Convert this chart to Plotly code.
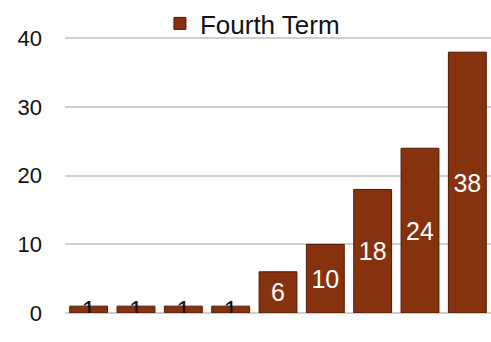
import plotly.graph_objects as go

categories = ["1", "2", "3", "4", "5", "6", "7", "8", "9"]
values = [1, 1, 1, 1, 6, 10, 18, 24, 38]
labels = ["1", "1", "1", "1", "6", "10", "18", "24", "38"]
label_colors = ["#111111"] * 4 + ["white"] * 5
y_ticks = [0, 10, 20, 30, 40]

fig = go.Figure()
fig.add_trace(go.Bar(
    x=categories,
    y=values,
    name="Fourth Term",
    text=labels,
    textposition="inside",
    insidetextanchor="middle",
    textangle=0,
    constraintext="none",
    textfont=dict(color=label_colors, size=25, family="Liberation Sans, Arial"),
    marker=dict(color="#86320f", line=dict(color="#4e1a05", width=1)),
    width=0.8,
    showlegend=True,
))

fig.update_layout(
    width=491,
    height=342,
    margin=dict(l=65, r=0, t=34, b=29),
    paper_bgcolor="white",
    plot_bgcolor="white",
    font=dict(family="Liberation Sans, Arial", color="#111111"),
    uniformtext=dict(minsize=24, mode="show"),
    bargap=0.2,
    legend=dict(
        orientation="h",
        x=0.44, xanchor="center",
        y=1.04, yanchor="middle",
        font=dict(size=26),
        itemwidth=30,
        bgcolor="rgba(0,0,0,0)",
    ),
    xaxis=dict(visible=False, range=[-0.5, 8.5]),
    yaxis=dict(
        range=[0, 40.5],
        tickvals=y_ticks,
        ticktext=[str(v) for v in y_ticks],
        tickfont=dict(size=22),
        showgrid=True,
        gridcolor="#cfcfcf",
        gridwidth=2,
        zeroline=True,
        zerolinecolor="#cfcfcf",
        zerolinewidth=2,
        showline=False,
        ticklabelstandoff=22,
    ),
)

fig.write_html("out.html")
